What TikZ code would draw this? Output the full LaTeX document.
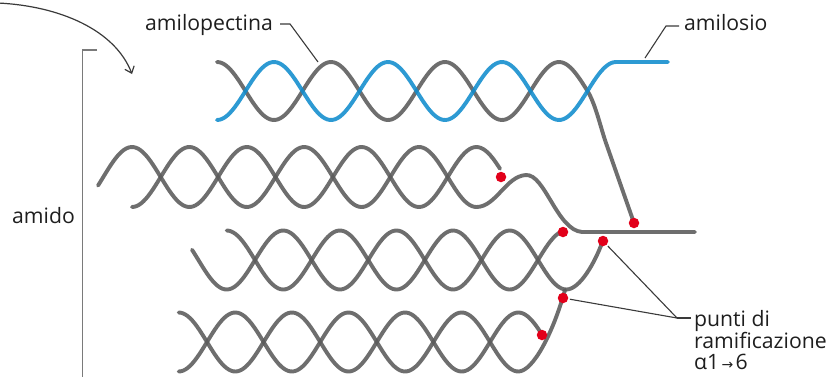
\documentclass[tikz,border=0pt]{standalone}
\usepackage{fontspec}
\setmainfont{Open Sans}
\newfontfamily\arrowfont{DejaVu Sans}
\usetikzlibrary{arrows.meta}

\definecolor{strandgray}{HTML}{5A5A5A}
\definecolor{strandblue}{RGB}{16,140,205}
\definecolor{branchred}{HTML}{E2001A}
\definecolor{inkdark}{HTML}{1E1E1E}
\definecolor{leadergray}{HTML}{3A3A3A}
\definecolor{bracketgray}{HTML}{7A7A7A}

\begin{document}
\begin{tikzpicture}[x=1pt,y=-1pt,
  strand/.style={line width=3.9pt, line cap=round, draw opacity=0.88, draw=strandgray},
  bluestrand/.style={strand, draw=strandblue},
  branchdot/.style={circle, fill=branchred, inner sep=0pt, minimum size=10.5pt},
  leader/.style={line width=1.1pt, draw=leadergray},
  lbl/.style={font=\fontsize{21.2}{21.8}\selectfont, text=inkdark, inner sep=0pt},
]
\useasboundingbox (0,0) rectangle (835,376);

% branch points (alpha 1->6 links)
\coordinate (p1) at (634,223);
\coordinate (p2) at (501,177);
\coordinate (p3) at (563,232);
\coordinate (p4) at (603,241);
\coordinate (p5) at (563,298);
\coordinate (p6) at (542,335);

% top helix: amylopectin strand (gray) and amylose strand (blue)
\draw[strand] plot[domain=217:587.5, samples=160] (\x,{91 - 29*cos((\x-217)/57*180)})
  .. controls (595.5,103.8) and (601,129) .. (606,143) -- (p1);
\draw[bluestrand] plot[domain=217:616, samples=160] (\x,{91 + 29*cos((\x-217)/57*180)})
  -- (668,62);

% second helix
\draw[strand] plot[domain=98:500, samples=170] (\x,{177 - 30*cos((\x-132)/57.4*180)});
\draw[strand] plot[domain=132:476.4, samples=150] (\x,{177 + 30*cos((\x-132)/57.4*180)})
  .. controls (496,207) and (506,176) .. (526,175)
  .. controls (545,174) and (557,230) .. (582,232) -- (695,232);

% third helix
\draw[strand] plot[domain=226.7:561, samples=150] (\x,{260 - 29.5*cos((\x-226.7)/56.6*180)});
\draw[strand] plot[domain=192:566.3, samples=160] (\x,{260 + 29.5*cos((\x-226.7)/56.6*180)})
  .. controls (580,289.5) and (595,262) .. (602,243);

% fourth helix
\draw[strand] plot[domain=178.7:541, samples=160] (\x,{342 - 29.5*cos((\x-178.7)/56.6*180)});
\draw[strand] plot[domain=178.7:518.3, samples=150] (\x,{342 + 29.5*cos((\x-178.7)/56.6*180)})
  .. controls (533,371.5) and (553,333) .. (565,290);

% red branch dots
\foreach \i in {1,...,6} \node[branchdot] (d\i) at (p\i) {};

% labels
\node[lbl, anchor=base west] (amylopectin) at (145,30) {amilopectina};
\node[lbl, anchor=base west] (amylose) at (684,30) {amilosio};
\node[lbl, anchor=base west] (starch) at (12,223) {amido};
\node[lbl, anchor=north west, align=left] (branchpts) at (694,310)
  {punti di\\ramificazione\\α1{\arrowfont\fontsize{14}{14}\selectfont\,→\,}6};

% leader lines
\coordinate (apC) at (318,62);
\draw[leader] ([shift={(7,-6)}]amylopectin.base east) -- ++(10,0) -- (apC);
\coordinate (alC) at (645,58);
\draw[leader] ([shift={(-5,-4)}]amylose.base west) -- ++(-13,0) -- (alC);
\coordinate (bj) at (677,318);
\coordinate (bjend) at (branchpts.west |- bj);
\draw[leader] ([xshift=-3pt]bjend) -- (bj);
\draw[leader, shorten >=1.5pt] (bj) -- (d4);
\draw[leader, shorten >=1.5pt] (bj) -- (d5);

% bracket for starch
\draw[line width=1.5pt, draw=bracketgray] (97,50) -- (82.5,50) -- (82.5,378);

% curved arrow coming from the left
\coordinate (arrowstart) at (-2,3);
\coordinate (arrowtip) at (132,74);
\draw[line width=1.2pt, draw=leadergray, -{Straight Barb[length=6pt,width=10pt]}]
  (arrowstart) .. controls (60,6) and (115,30) .. (arrowtip);
\end{tikzpicture}
\end{document}
